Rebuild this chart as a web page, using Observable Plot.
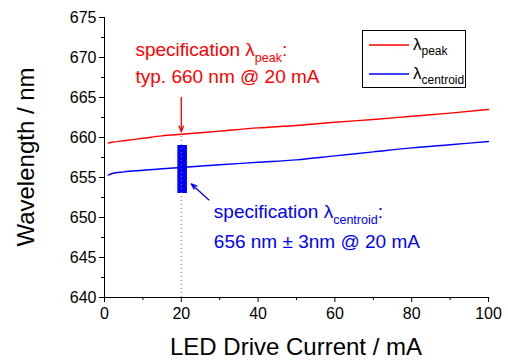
<!DOCTYPE html>
<html>
<head>
<meta charset="utf-8">
<script src="https://cdn.jsdelivr.net/npm/d3@7"></script>
<script src="https://cdn.jsdelivr.net/npm/@observablehq/plot@0.6"></script>
<style>
  html, body { margin: 0; padding: 0; background: #fff; }
  #chart { position: relative; width: 508px; height: 363px; }
  svg { font-family: "Liberation Sans", Arial, sans-serif; }
</style>
</head>
<body>
<div id="chart"></div>
<script>
// Drive current (mA) and measured wavelengths (nm)
const current = [1, 2, 5, 10, 15, 20, 30, 40, 50, 60, 70, 80, 90, 100];
const peak = [659.3, 659.4, 659.6, 659.9, 660.2, 660.4, 660.8, 661.2, 661.5, 661.9, 662.25, 662.65, 663.05, 663.5];
const centroid = [655.3, 655.5, 655.7, 655.9, 656.1, 656.25, 656.6, 656.9, 657.2, 657.7, 658.2, 658.7, 659.1, 659.5];

// Specification at the nominal drive current
const specCurrent = 20;
const specPeak = 660;
const specCentroid = 656;
const specTolerance = 3;

const xTicks = [0, 20, 40, 60, 80, 100];
const xMinor = [10, 30, 50, 70, 90];
const yTicks = [640, 645, 650, 655, 660, 665, 670, 675];
const yMinor = [642.5, 647.5, 652.5, 657.5, 662.5, 667.5, 672.5];

const RED = "#ff0000";
const BLUE = "#0000ff";

const peakData = current.map((c, i) => ({c, w: peak[i]}));
const centroidData = current.map((c, i) => ({c, w: centroid[i]}));

const chart = Plot.plot({
  width: 508,
  height: 363,
  marginLeft: 104,
  marginRight: 20,
  marginTop: 17,
  marginBottom: 66,
  style: {fontFamily: "Liberation Sans, Arial, sans-serif", fontSize: "16px", color: "#000", background: "#fff"},
  x: {domain: [0, 100]},
  y: {domain: [640, 675]},
  marks: [
    // spec bar for the centroid wavelength
    Plot.rect([{}], {
      x1: specCurrent - 0.9, x2: specCurrent + 1.6,
      y1: specCentroid - specTolerance, y2: specCentroid + specTolerance,
      fill: BLUE
    }),
    // dotted guide at the nominal current
    Plot.ruleX([specCurrent], {y1: 640, y2: 660.3, stroke: "#777", strokeWidth: 1, strokeDasharray: "1,3"}),
    Plot.line(peakData, {x: "c", y: "w", stroke: RED, strokeWidth: 1.4, curve: "monotone-x"}),
    Plot.line(centroidData, {x: "c", y: "w", stroke: BLUE, strokeWidth: 1.4, curve: "monotone-x"}),
    // annotation arrows
    Plot.arrow([{x1: specCurrent, y1: 665.0, x2: specCurrent, y2: 660.7}], {
      x1: "x1", y1: "y1", x2: "x2", y2: "y2", stroke: RED, strokeWidth: 1.3, headLength: 7, headAngle: 40
    }),
    Plot.arrow([{x1: 27.2, y1: 652.2, x2: 22.6, y2: 654.2}], {
      x1: "x1", y1: "y1", x2: "x2", y2: "y2", stroke: BLUE, strokeWidth: 1.3, headLength: 7, headAngle: 40
    }),
    // axes
    Plot.axisX({ticks: xTicks, tickSize: 5, tickPadding: 5, fontSize: 16, label: null, tickFormat: d => d}),
    Plot.axisX({ticks: xMinor, tickSize: 3, text: null, label: null}),
    Plot.axisY({ticks: yTicks, tickSize: 5, tickPadding: 3, fontSize: 16, label: null, tickFormat: d => d}),
    Plot.axisY({ticks: yMinor, tickSize: 3, text: null, label: null}),
    Plot.ruleY([640], {stroke: "#000", strokeWidth: 1}),
    Plot.ruleX([0], {stroke: "#000", strokeWidth: 1})
  ]
});

document.getElementById("chart").appendChild(chart);

const svg = d3.select(chart);
const sx = chart.scale("x");
const sy = chart.scale("y");
const X = v => sx.apply(v);
const Y = v => sy.apply(v);

// axis titles
svg.append("text")
  .attr("x", (X(0) + X(100)) / 2).attr("y", 355)
  .attr("text-anchor", "middle").attr("font-size", 24).attr("fill", "#000")
  .text("LED Drive Current / mA");
svg.append("text")
  .attr("transform", `translate(34,${(Y(640) + Y(675)) / 2}) rotate(-90)`)
  .attr("text-anchor", "middle").attr("font-size", 24).attr("fill", "#000")
  .text("Wavelength / nm");

// text with a subscripted lambda
function lambdaLine(g, x, y, pre, sub, post, size, color) {
  const t = g.append("text").attr("x", x).attr("y", y).attr("font-size", size)
    .attr("fill", color).attr("text-anchor", "start");
  t.append("tspan").text(pre + "λ");
  t.append("tspan").attr("dy", size * 0.3).attr("font-size", size * 0.66).text(sub);
  t.append("tspan").attr("dy", -size * 0.3).text(post);
  return t;
}

// peak specification note
lambdaLine(svg, X(8.2), Y(665.0) - 41, "specification ", "peak", ":", 19, RED);
svg.append("text").attr("x", X(8.2)).attr("y", Y(665.0) - 14).attr("text-anchor", "start")
  .attr("font-size", 19).attr("fill", RED).text(`typ. ${specPeak} nm @ ${specCurrent} mA`);

// centroid specification note
lambdaLine(svg, X(28.6), Y(652.2) + 19, "specification ", "centroid", ":", 19, BLUE);
svg.append("text").attr("x", X(28.6)).attr("y", Y(652.2) + 49).attr("text-anchor", "start")
  .attr("font-size", 19).attr("fill", BLUE)
  .text(`${specCentroid} nm ± ${specTolerance}nm @ ${specCurrent} mA`);

// legend
const lg = svg.append("g");
lg.append("rect").attr("x", 362.5).attr("y", 30.5).attr("width", 103).attr("height", 57)
  .attr("fill", "#fff").attr("stroke", "#000").attr("stroke-width", 1);
[["peak", RED, 45], ["centroid", BLUE, 74]].forEach(([sub, color, y]) => {
  lg.append("line").attr("x1", 369).attr("x2", 409).attr("y1", y).attr("y2", y)
    .attr("stroke", color).attr("stroke-width", 1.4);
  const t = lg.append("text").attr("x", 413).attr("y", y + 5).attr("font-size", 17)
    .attr("fill", "#000").attr("text-anchor", "start");
  t.append("tspan").text("λ");
  t.append("tspan").attr("dy", 5).attr("font-size", 12).text(sub);
});
</script>
</body>
</html>
